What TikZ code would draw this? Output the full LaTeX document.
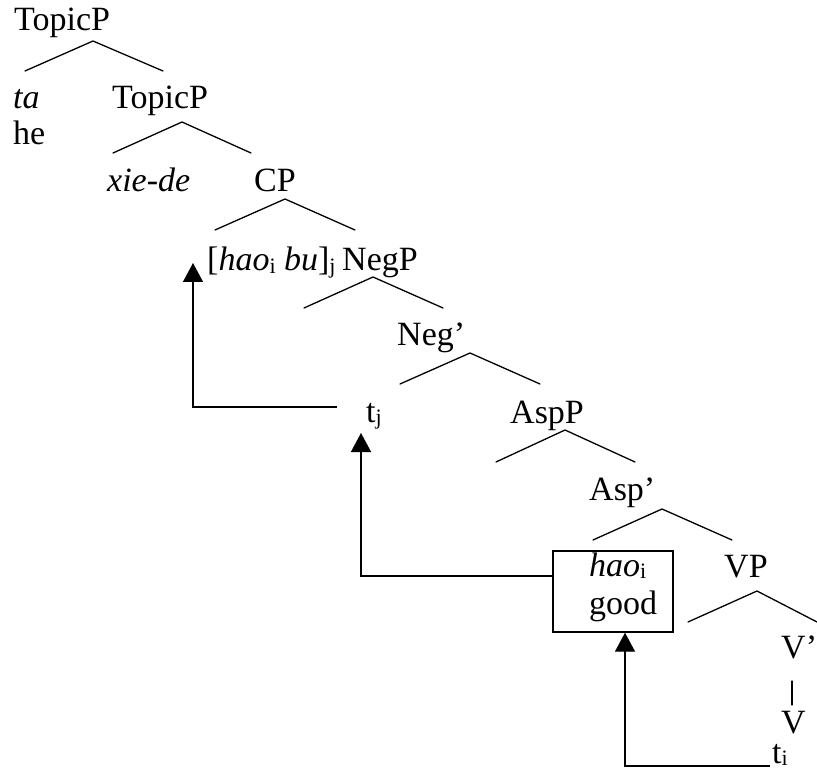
\documentclass[tikz,border=0pt]{standalone}
\usepackage{fontspec}
\setmainfont{Liberation Serif}
\usetikzlibrary{arrows.meta}
\newcommand{\sbx}[1]{\raisebox{-0.08em}{\fontsize{22}{22}\selectfont #1}}
\begin{document}
\begin{tikzpicture}[x=1pt,y=-1pt,
  lbl/.style={anchor=base west, inner sep=0pt, font=\fontsize{34}{40}\selectfont},
  branch/.style={line width=1.3pt, line cap=round},
  mv/.style={line width=1.4pt, -{Triangle[width=20pt,length=19pt]}},
  framebox/.style={draw, line width=1.4pt, minimum width=120pt, minimum height=81pt, inner sep=0pt}
]
\useasboundingbox (0,0) rectangle (817,770);
% labels
\node[lbl] (topic1) at (14,31) {TopicP};
\node[lbl] (ta) at (13,109) {\textit{ta}};
\node[lbl] (he) at (13,145) {he};
\node[lbl] (topic2) at (112,109) {TopicP};
\node[lbl] (xiede) at (107,192) {\textit{xie-de}};
\node[lbl] (cp) at (254,192) {CP};
\node[lbl] (haobu) at (207,271) {[\textit{hao}\sbx{i} \textit{bu}]\sbx{j}};
\node[lbl] (negp) at (342,271) {NegP};
\node[lbl] (negbar) at (397,345) {Neg’};
\node[lbl] (tj) at (366,422) {t\sbx{j}};
\node[lbl] (aspp) at (510,423) {AspP};
\node[lbl] (aspbar) at (589,500) {Asp’};
\node[framebox] (box) at (613,591.5) {};
\node[lbl] (hao) at (589,576) {\textit{hao}\sbx{i}};
\node[lbl] (good) at (589,614) {good};
\node[lbl] (vp) at (724,577) {VP};
\node[lbl] (vbar) at (781,658) {V’};
\node[lbl] (v) at (781,733) {V};
\node[lbl] (ti) at (772,763) {t\sbx{i}};
% branch points
\coordinate (ap1) at (93,41);  \coordinate (lf1) at (25,71);  \coordinate (rt1) at (163,71);
\coordinate (ap2) at (182,122); \coordinate (lf2) at (113,153); \coordinate (rt2) at (251,153);
\coordinate (ap3) at (285,199); \coordinate (lf3) at (215,230); \coordinate (rt3) at (355,230);
\coordinate (ap4) at (373,277); \coordinate (lf4) at (304,308); \coordinate (rt4) at (443,308);
\coordinate (ap5) at (470,353); \coordinate (lf5) at (400,384); \coordinate (rt5) at (540,384);
\coordinate (ap6) at (565,430); \coordinate (lf6) at (496,462); \coordinate (rt6) at (635,462);
\coordinate (ap7) at (662,509); \coordinate (lf7) at (593,540); \coordinate (rt7) at (732,540);
\coordinate (ap8) at (757,591); \coordinate (lf8) at (688,622); \coordinate (rt8) at (817,622);
\coordinate (bt) at (792,681); \coordinate (bb) at (792,705);
\foreach \i in {1,...,8} {\draw[branch] (lf\i) -- (ap\i) -- (rt\i);}
\draw[branch] (bt) -- (bb);
% movement arrows
\coordinate (s1) at (337,407); \coordinate (e1) at (193,263);
\coordinate (e2) at (361,433);
\coordinate (s3) at (770,766);
\draw[mv] (s1) -| (e1);
\draw[mv] (box.west |- hao.base) -| (e2);
\draw[mv] (s3) -| ([xshift=12pt]box.south);
\end{tikzpicture}
\end{document}
